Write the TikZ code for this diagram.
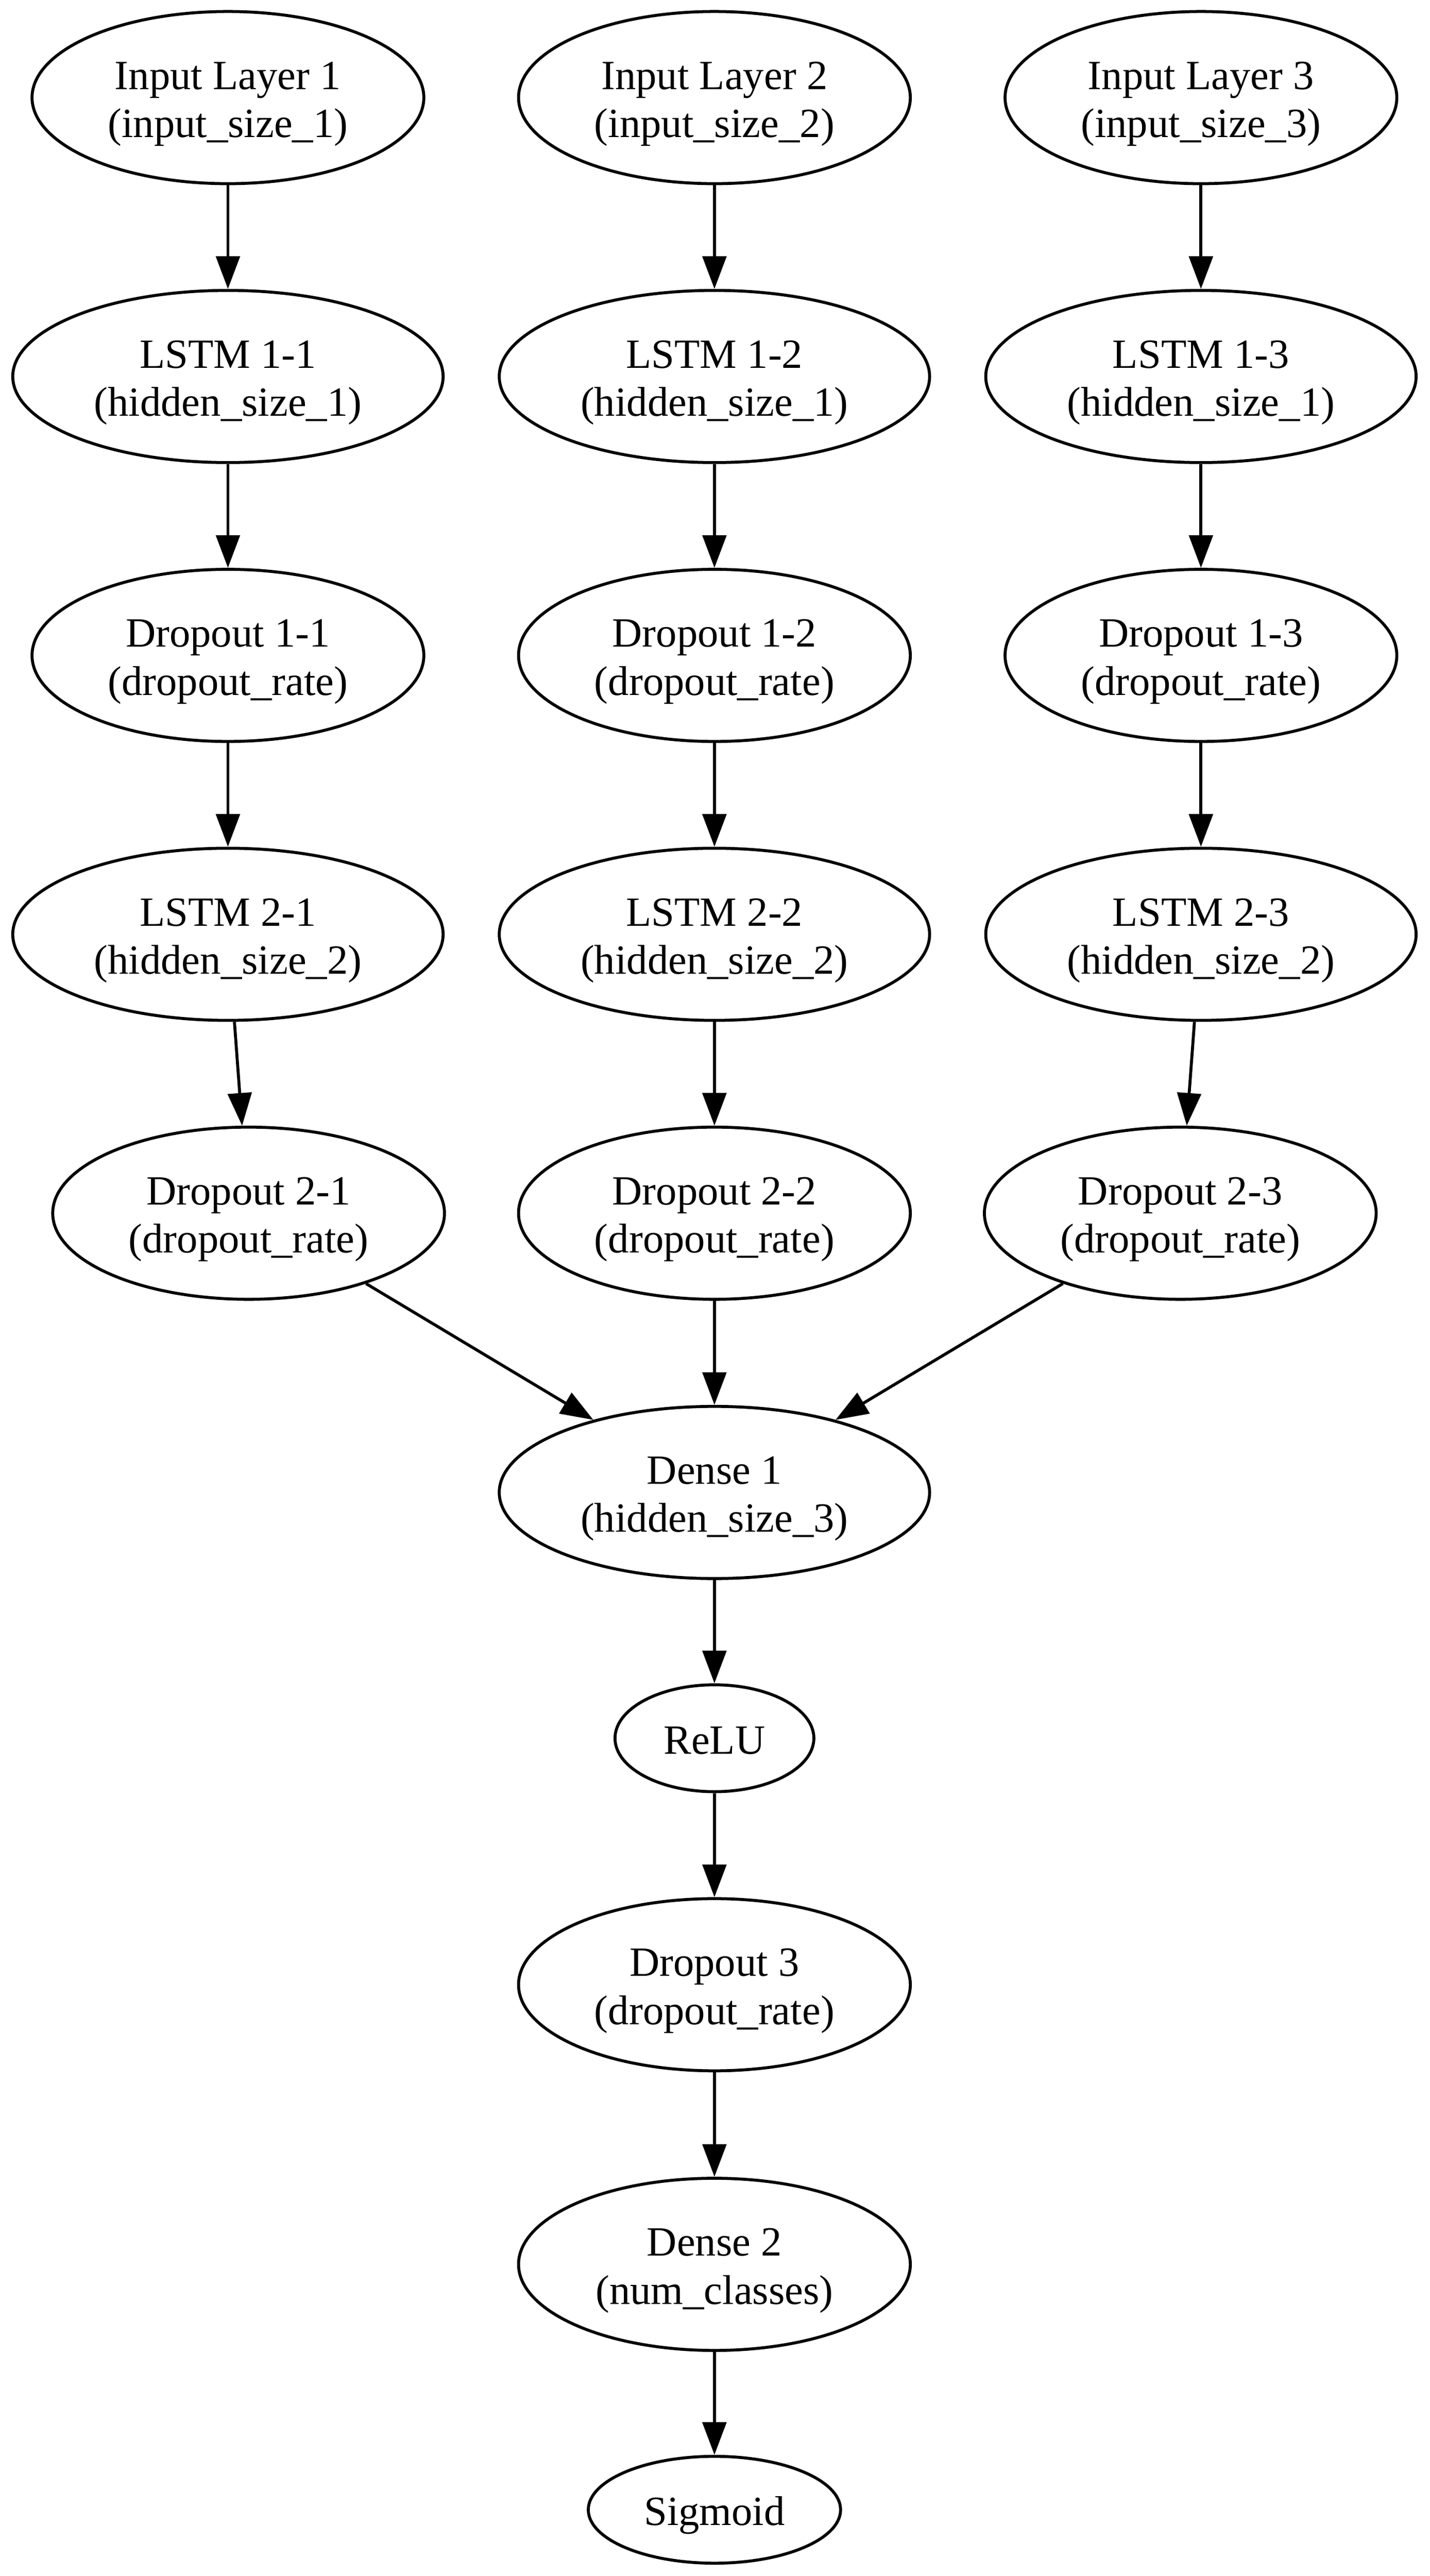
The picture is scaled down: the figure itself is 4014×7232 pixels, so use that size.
\documentclass[tikz,border=0pt]{standalone}
\usepackage{fontspec}
\setmainfont{Liberation Serif}
\usetikzlibrary{shapes.geometric,arrows.meta}
\newcommand\twolines[2]{\rule{0pt}{13.5pt}#1\\#2\rule[-3pt]{0pt}{3pt}}
\newcommand\oneline[1]{\rule[-3pt]{0pt}{16.6pt}#1}
\tikzset{
  layer/.style={draw=black, line width=1pt, ellipse, inner sep=0pt, align=center,
    font=\fontsize{14}{16.2}\selectfont},
  twoline/.style={layer, minimum width=132pt, minimum height=58pt},
  wide/.style={layer, minimum width=145pt, minimum height=58pt},
  flow/.style={draw=black, line width=1pt, -{Triangle[length=11pt,width=8pt]}}
}
\begin{document}
\begin{tikzpicture}[x=0.12pt,y=-0.12pt]
\useasboundingbox (0,0) rectangle (4014,7232);
\node[twoline] (in1) at (640,274) {\twolines{Input Layer 1}{(input\_size\_1)}};
\node[twoline] (in2) at (2006,274) {\twolines{Input Layer 2}{(input\_size\_2)}};
\node[twoline] (in3) at (3372,274) {\twolines{Input Layer 3}{(input\_size\_3)}};
\node[wide] (l11) at (640,1057) {\twolines{LSTM 1-1}{(hidden\_size\_1)}};
\node[wide] (l12) at (2006,1057) {\twolines{LSTM 1-2}{(hidden\_size\_1)}};
\node[wide] (l13) at (3372,1057) {\twolines{LSTM 1-3}{(hidden\_size\_1)}};
\node[twoline] (d11) at (640,1840) {\twolines{Dropout 1-1}{(dropout\_rate)}};
\node[twoline] (d12) at (2006,1840) {\twolines{Dropout 1-2}{(dropout\_rate)}};
\node[twoline] (d13) at (3372,1840) {\twolines{Dropout 1-3}{(dropout\_rate)}};
\node[wide] (l21) at (640,2623) {\twolines{LSTM 2-1}{(hidden\_size\_2)}};
\node[wide] (l22) at (2006,2623) {\twolines{LSTM 2-2}{(hidden\_size\_2)}};
\node[wide] (l23) at (3372,2623) {\twolines{LSTM 2-3}{(hidden\_size\_2)}};
\node[twoline] (d21) at (698,3406) {\twolines{Dropout 2-1}{(dropout\_rate)}};
\node[twoline] (d22) at (2006,3406) {\twolines{Dropout 2-2}{(dropout\_rate)}};
\node[twoline] (d23) at (3314,3406) {\twolines{Dropout 2-3}{(dropout\_rate)}};
\node[wide] (dense1) at (2006,4190) {\twolines{Dense 1}{(hidden\_size\_3)}};
\node[layer, minimum width=67pt, minimum height=36pt] (relu) at (2006,4880) {\oneline{ReLU}};
\node[twoline] (d3) at (2006,5572) {\twolines{Dropout 3}{(dropout\_rate)}};
\node[twoline] (dense2) at (2006,6357) {\twolines{Dense 2}{(num\_classes)}};
\node[layer, minimum width=85pt, minimum height=36pt] (sig) at (2006,7046) {\oneline{Sigmoid}};
\foreach \a/\b in {in1/l11,in2/l12,in3/l13,l11/d11,l12/d12,l13/d13,d11/l21,d12/l22,d13/l23,l21/d21,l22/d22,l23/d23,d21/dense1,d22/dense1,d23/dense1,dense1/relu,relu/d3,d3/dense2,dense2/sig}
  \draw[flow] (\a) -- (\b);
\end{tikzpicture}
\end{document}
